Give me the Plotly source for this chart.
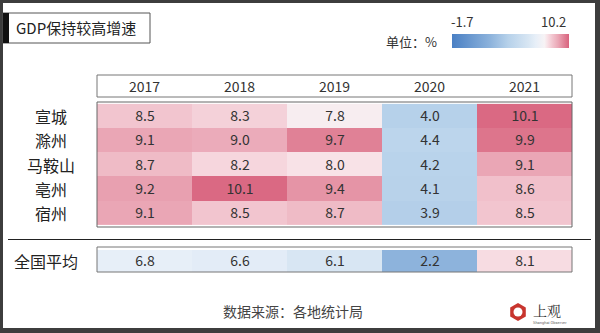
import plotly.graph_objects as go
import math

years = ["2017", "2018", "2019", "2020", "2021"]
cities = ["宣城", "滁州", "马鞍山", "亳州", "宿州"]
city_values = [
    [8.5, 8.3, 7.8, 4.0, 10.1],
    [9.1, 9.0, 9.7, 4.4, 9.9],
    [8.7, 8.2, 8.0, 4.2, 9.1],
    [9.2, 10.1, 9.4, 4.1, 8.6],
    [9.1, 8.5, 8.7, 3.9, 8.5],
]
national_label = "全国平均"
national_values = [6.8, 6.6, 6.1, 2.2, 8.1]
scale_min = -1.7
scale_max = 10.2

title = "GDP保持较高增速"
unit_text = "单位：%"
source_text = "数据来源：各地统计局"

W, H = 600, 333
FONT = "Noto Sans CJK SC, Noto Sans, sans-serif"


def px_x(x):
    return x / W


def px_y(y):
    return 1 - y / H


colorscale = [
    [0.0, "#4a80c4"],
    [0.328, "#8db3dc"],
    [0.479, "#b6d1ea"],
    [0.655, "#d8e6f3"],
    [0.714, "#e7eff8"],
    [0.79, "#f7f3f5"],
    [0.815, "#f8e2e7"],
    [0.857, "#f2c5cf"],
    [0.908, "#eaa6b5"],
    [0.958, "#e08196"],
    [1.0, "#d9637e"],
]

fig = go.Figure()
fig.add_trace(go.Heatmap(
    z=city_values, x=years, y=cities, coloraxis="coloraxis",
    texttemplate="%{z:.1f}", textfont=dict(size=14, color="#333333", family=FONT),
    xgap=0, ygap=0, hoverinfo="skip",
))
fig.add_trace(go.Heatmap(
    z=[national_values], x=years, y=[national_label], coloraxis="coloraxis",
    texttemplate="%{z:.1f}", textfont=dict(size=14, color="#333333", family=FONT),
    xaxis="x2", yaxis="y2", hoverinfo="skip",
))

xl, xr = 97, 572
xrange = [-0.5, len(years) - 0.5]
axis_common = dict(showticklabels=False, showgrid=False, zeroline=False, showline=False, ticks="")
fig.update_layout(
    width=W, height=H,
    margin=dict(l=0, r=0, t=0, b=0),
    paper_bgcolor="white", plot_bgcolor="white",
    font=dict(family=FONT),
    xaxis=dict(domain=[px_x(xl), px_x(xr)], type="category", anchor="y", range=xrange, **axis_common),
    yaxis=dict(domain=[px_y(227), px_y(102)], type="category", autorange="reversed", anchor="x", **axis_common),
    xaxis2=dict(domain=[px_x(xl), px_x(xr)], type="category", anchor="y2", range=xrange, **axis_common),
    yaxis2=dict(domain=[px_y(272), px_y(247)], type="category", anchor="x2", **axis_common),
    coloraxis=dict(
        cmin=scale_min, cmax=scale_max, colorscale=colorscale,
        colorbar=dict(
            orientation="h", thickness=14, len=117, lenmode="pixels",
            x=px_x(510.5), xanchor="center", y=px_y(48), yanchor="bottom",
            xpad=0, ypad=0, outlinewidth=0, showticklabels=False, ticks="",
        ),
    ),
    showlegend=False,
)

shapes = []
frame_col = "#3d3d3d"
shapes += [
    dict(type="rect", xref="paper", yref="paper", x0=0, x1=px_x(3), y0=0, y1=1, fillcolor=frame_col, line_width=0),
    dict(type="rect", xref="paper", yref="paper", x0=px_x(595), x1=1, y0=0, y1=1, fillcolor=frame_col, line_width=0),
    dict(type="rect", xref="paper", yref="paper", x0=0, x1=1, y0=px_y(3), y1=1, fillcolor=frame_col, line_width=0),
    dict(type="rect", xref="paper", yref="paper", x0=0, x1=1, y0=0, y1=px_y(328), fillcolor=frame_col, line_width=0),
]
shapes += [
    dict(type="rect", xref="paper", yref="paper", x0=px_x(3), x1=px_x(150), y0=px_y(43), y1=px_y(13),
         line=dict(color="#555555", width=1), fillcolor="white"),
    dict(type="rect", xref="paper", yref="paper", x0=px_x(3), x1=px_x(9), y0=px_y(43), y1=px_y(13),
         fillcolor="#111111", line_width=0),
]
shapes.append(dict(type="rect", xref="paper", yref="paper", x0=px_x(xl), x1=px_x(xr), y0=px_y(97), y1=px_y(75),
                   line=dict(color="#777777", width=1)))
shapes.append(dict(type="rect", xref="paper", yref="paper", x0=px_x(xl), x1=px_x(xr), y0=px_y(227), y1=px_y(102),
                   line=dict(color="#666666", width=1), layer="above"))
shapes.append(dict(type="rect", xref="paper", yref="paper", x0=px_x(xl), x1=px_x(xr), y0=px_y(272), y1=px_y(247),
                   line=dict(color="#777777", width=1), layer="above"))
shapes.append(dict(type="line", xref="paper", yref="paper", x0=px_x(8), x1=px_x(591), y0=px_y(239.5), y1=px_y(239.5),
                   line=dict(color="#222222", width=1.2)))
cx, cy, r = 518, 312, 9
pts = [(cx + r * math.cos(math.radians(30 + 60 * i)), cy + r * math.sin(math.radians(30 + 60 * i))) for i in range(6)]
path = "M " + " L ".join(f"{px_x(x):.5f},{px_y(y):.5f}" for x, y in pts) + " Z"
shapes.append(dict(type="path", xref="paper", yref="paper", path=path, fillcolor="#c8352e", line_width=0))
shapes.append(dict(type="circle", xref="paper", yref="paper", x0=px_x(cx - 4.5), x1=px_x(cx + 4.5),
                   y0=px_y(cy + 4.5), y1=px_y(cy - 4.5), fillcolor="white", line_width=0))

annotations = []
annotations.append(dict(text=title, xref="paper", yref="paper", x=px_x(14), y=px_y(28), xanchor="left", yanchor="middle",
                        showarrow=False, font=dict(size=15, color="#222222", family=FONT)))
annotations.append(dict(text=unit_text, xref="paper", yref="paper", x=px_x(411), y=px_y(41), xanchor="center", yanchor="middle",
                        showarrow=False, font=dict(size=13, color="#333333", family=FONT)))
annotations.append(dict(text=f"{scale_min}", xref="paper", yref="paper", x=px_x(462), y=px_y(21), xanchor="center", yanchor="middle",
                        showarrow=False, font=dict(size=13, color="#333333", family=FONT)))
annotations.append(dict(text=f"{scale_max}", xref="paper", yref="paper", x=px_x(568), y=px_y(21), xanchor="right", yanchor="middle",
                        showarrow=False, font=dict(size=13, color="#333333", family=FONT)))
for i, yr in enumerate(years):
    annotations.append(dict(text=yr, xref="x", yref="paper", x=i, y=px_y(86), xanchor="center", yanchor="middle",
                            showarrow=False, font=dict(size=14, color="#333333", family=FONT)))
for c in cities:
    annotations.append(dict(text=c, xref="paper", yref="y", x=px_x(51), y=c, xanchor="center", yanchor="middle",
                            showarrow=False, font=dict(size=16, color="#222222", family=FONT)))
annotations.append(dict(text=national_label, xref="paper", yref="y2", x=px_x(46), y=national_label, xanchor="center",
                        yanchor="middle", showarrow=False, font=dict(size=16, color="#222222", family=FONT)))
annotations.append(dict(text=source_text, xref="paper", yref="paper", x=px_x(293), y=px_y(311), xanchor="center",
                        yanchor="middle", showarrow=False, font=dict(size=14, color="#444444", family=FONT)))
annotations.append(dict(text="上观", xref="paper", yref="paper", x=px_x(531), y=px_y(310), xanchor="left",
                        yanchor="middle", showarrow=False, font=dict(size=14, color="#333333", family="Noto Serif CJK SC, Noto Sans CJK SC")))
annotations.append(dict(text="Shanghai Observer", xref="paper", yref="paper", x=px_x(531), y=px_y(322), xanchor="left",
                        yanchor="middle", showarrow=False, font=dict(size=4, color="#666666", family="Roboto")))

fig.update_layout(shapes=shapes, annotations=annotations)
fig.write_html("out.html")
